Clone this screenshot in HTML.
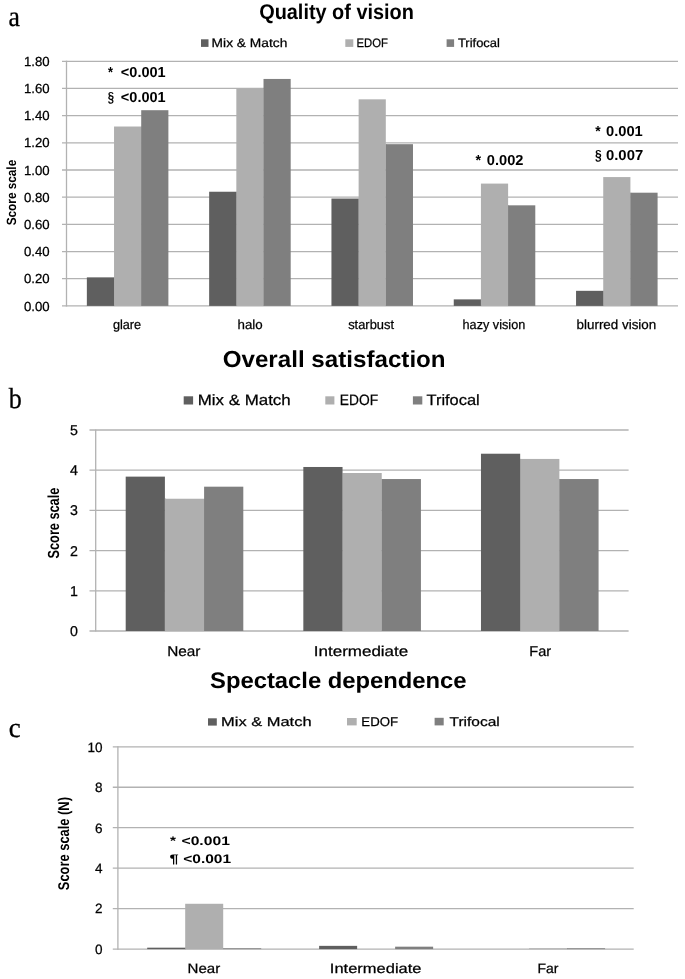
<!DOCTYPE html>
<html><head><meta charset="utf-8"><title>Figure</title>
<style>
html,body{margin:0;padding:0;background:#fff;}
body{width:685px;height:979px;overflow:hidden;font-family:"Liberation Sans", sans-serif;}
svg{display:block;filter:grayscale(1);}
</style></head>
<body>
<svg width="685" height="979" viewBox="0 0 685 979" text-rendering="geometricPrecision">
<rect x="0" y="0" width="685" height="979" fill="#fff"/>
<line x1="62.00" y1="305.90" x2="678.00" y2="305.90" stroke="#b2b2b2" stroke-width="1.30"/>
<line x1="62.00" y1="278.72" x2="678.00" y2="278.72" stroke="#b2b2b2" stroke-width="1.30"/>
<line x1="62.00" y1="251.54" x2="678.00" y2="251.54" stroke="#b2b2b2" stroke-width="1.30"/>
<line x1="62.00" y1="224.36" x2="678.00" y2="224.36" stroke="#b2b2b2" stroke-width="1.30"/>
<line x1="62.00" y1="197.18" x2="678.00" y2="197.18" stroke="#b2b2b2" stroke-width="1.30"/>
<line x1="62.00" y1="170.00" x2="678.00" y2="170.00" stroke="#b2b2b2" stroke-width="1.30"/>
<line x1="62.00" y1="142.82" x2="678.00" y2="142.82" stroke="#b2b2b2" stroke-width="1.30"/>
<line x1="62.00" y1="115.64" x2="678.00" y2="115.64" stroke="#b2b2b2" stroke-width="1.30"/>
<line x1="62.00" y1="88.46" x2="678.00" y2="88.46" stroke="#b2b2b2" stroke-width="1.30"/>
<line x1="62.00" y1="61.28" x2="678.00" y2="61.28" stroke="#b2b2b2" stroke-width="1.30"/>
<line x1="66.50" y1="60.68" x2="66.50" y2="306.50" stroke="#b2b2b2" stroke-width="1.30"/>
<rect x="86.85" y="277.36" width="27.18" height="28.54" fill="#5f5f5f"/>
<rect x="113.93" y="277.36" width="1.00" height="28.54" fill="#5f5f5f"/>
<rect x="114.03" y="126.51" width="27.18" height="179.39" fill="#afafaf"/>
<rect x="141.11" y="126.51" width="1.00" height="179.39" fill="#afafaf"/>
<rect x="141.21" y="110.20" width="27.18" height="195.70" fill="#7f7f7f"/>
<rect x="209.15" y="191.74" width="27.18" height="114.16" fill="#5f5f5f"/>
<rect x="236.23" y="191.74" width="1.00" height="114.16" fill="#5f5f5f"/>
<rect x="236.33" y="88.46" width="27.18" height="217.44" fill="#afafaf"/>
<rect x="263.41" y="88.46" width="1.00" height="217.44" fill="#afafaf"/>
<rect x="263.51" y="78.95" width="27.18" height="226.95" fill="#7f7f7f"/>
<rect x="331.45" y="198.54" width="27.18" height="107.36" fill="#5f5f5f"/>
<rect x="358.53" y="198.54" width="1.00" height="107.36" fill="#5f5f5f"/>
<rect x="358.63" y="99.33" width="27.18" height="206.57" fill="#afafaf"/>
<rect x="385.71" y="144.18" width="1.00" height="161.72" fill="#afafaf"/>
<rect x="385.81" y="144.18" width="27.18" height="161.72" fill="#7f7f7f"/>
<rect x="453.75" y="299.38" width="27.18" height="6.52" fill="#5f5f5f"/>
<rect x="480.83" y="299.38" width="1.00" height="6.52" fill="#5f5f5f"/>
<rect x="480.93" y="183.59" width="27.18" height="122.31" fill="#afafaf"/>
<rect x="508.01" y="205.33" width="1.00" height="100.57" fill="#afafaf"/>
<rect x="508.11" y="205.33" width="27.18" height="100.57" fill="#7f7f7f"/>
<rect x="576.05" y="290.82" width="27.18" height="15.08" fill="#5f5f5f"/>
<rect x="603.13" y="290.82" width="1.00" height="15.08" fill="#5f5f5f"/>
<rect x="603.23" y="177.07" width="27.18" height="128.83" fill="#afafaf"/>
<rect x="630.31" y="192.70" width="1.00" height="113.20" fill="#afafaf"/>
<rect x="630.41" y="192.70" width="27.18" height="113.20" fill="#7f7f7f"/>
<line x1="89.50" y1="631.00" x2="628.60" y2="631.00" stroke="#b2b2b2" stroke-width="1.30"/>
<line x1="89.50" y1="590.80" x2="628.60" y2="590.80" stroke="#b2b2b2" stroke-width="1.30"/>
<line x1="89.50" y1="550.60" x2="628.60" y2="550.60" stroke="#b2b2b2" stroke-width="1.30"/>
<line x1="89.50" y1="510.40" x2="628.60" y2="510.40" stroke="#b2b2b2" stroke-width="1.30"/>
<line x1="89.50" y1="470.20" x2="628.60" y2="470.20" stroke="#b2b2b2" stroke-width="1.30"/>
<line x1="89.50" y1="430.00" x2="628.60" y2="430.00" stroke="#b2b2b2" stroke-width="1.30"/>
<line x1="95.70" y1="429.40" x2="95.70" y2="631.60" stroke="#b2b2b2" stroke-width="1.30"/>
<rect x="125.70" y="476.63" width="39.20" height="154.37" fill="#5f5f5f"/>
<rect x="164.80" y="498.74" width="1.00" height="132.26" fill="#5f5f5f"/>
<rect x="164.90" y="498.74" width="39.20" height="132.26" fill="#afafaf"/>
<rect x="204.00" y="498.74" width="1.00" height="132.26" fill="#afafaf"/>
<rect x="204.10" y="486.68" width="39.20" height="144.32" fill="#7f7f7f"/>
<rect x="303.33" y="466.98" width="39.20" height="164.02" fill="#5f5f5f"/>
<rect x="342.43" y="473.01" width="1.00" height="157.99" fill="#5f5f5f"/>
<rect x="342.53" y="473.01" width="39.20" height="157.99" fill="#afafaf"/>
<rect x="381.63" y="479.04" width="1.00" height="151.96" fill="#afafaf"/>
<rect x="381.73" y="479.04" width="39.20" height="151.96" fill="#7f7f7f"/>
<rect x="480.97" y="453.72" width="39.20" height="177.28" fill="#5f5f5f"/>
<rect x="520.07" y="458.94" width="1.00" height="172.06" fill="#5f5f5f"/>
<rect x="520.17" y="458.94" width="39.20" height="172.06" fill="#afafaf"/>
<rect x="559.27" y="479.04" width="1.00" height="151.96" fill="#afafaf"/>
<rect x="559.37" y="479.04" width="39.20" height="151.96" fill="#7f7f7f"/>
<line x1="112.80" y1="949.10" x2="633.70" y2="949.10" stroke="#b2b2b2" stroke-width="1.30"/>
<line x1="112.80" y1="908.64" x2="633.70" y2="908.64" stroke="#b2b2b2" stroke-width="1.30"/>
<line x1="112.80" y1="868.18" x2="633.70" y2="868.18" stroke="#b2b2b2" stroke-width="1.30"/>
<line x1="112.80" y1="827.72" x2="633.70" y2="827.72" stroke="#b2b2b2" stroke-width="1.30"/>
<line x1="112.80" y1="787.26" x2="633.70" y2="787.26" stroke="#b2b2b2" stroke-width="1.30"/>
<line x1="112.80" y1="746.80" x2="633.70" y2="746.80" stroke="#b2b2b2" stroke-width="1.30"/>
<line x1="117.90" y1="746.20" x2="117.90" y2="949.70" stroke="#b2b2b2" stroke-width="1.30"/>
<rect x="147.20" y="947.68" width="38.00" height="1.42" fill="#5f5f5f"/>
<rect x="185.10" y="947.68" width="1.00" height="1.42" fill="#5f5f5f"/>
<rect x="185.20" y="903.78" width="38.00" height="45.32" fill="#afafaf"/>
<rect x="223.10" y="948.29" width="1.00" height="0.81" fill="#afafaf"/>
<rect x="223.20" y="948.29" width="38.00" height="0.81" fill="#7f7f7f"/>
<rect x="319.13" y="945.86" width="38.00" height="3.24" fill="#5f5f5f"/>
<rect x="395.13" y="946.67" width="38.00" height="2.43" fill="#7f7f7f"/>
<rect x="529.07" y="948.29" width="38.00" height="0.81" fill="#afafaf"/>
<rect x="566.97" y="948.29" width="1.00" height="0.81" fill="#afafaf"/>
<rect x="567.07" y="948.29" width="38.00" height="0.81" fill="#7f7f7f"/>
<rect x="201.00" y="39.30" width="7.50" height="7.60" fill="#5f5f5f"/>
<rect x="345.30" y="39.30" width="8.00" height="7.60" fill="#afafaf"/>
<rect x="446.60" y="39.30" width="7.50" height="7.60" fill="#7f7f7f"/>
<rect x="183.70" y="396.30" width="9.40" height="8.20" fill="#5f5f5f"/>
<rect x="325.30" y="396.30" width="9.10" height="8.20" fill="#afafaf"/>
<rect x="412.90" y="396.30" width="9.40" height="8.20" fill="#7f7f7f"/>
<rect x="208.00" y="718.30" width="8.80" height="7.30" fill="#5f5f5f"/>
<rect x="347.00" y="718.00" width="9.70" height="7.40" fill="#afafaf"/>
<rect x="434.60" y="717.80" width="9.10" height="7.60" fill="#7f7f7f"/>
<g fill="#000">
<text x="8.54" y="25.50" font-family='"Liberation Serif", serif' font-weight="400" font-size="29.00" textLength="11.39" lengthAdjust="spacingAndGlyphs" stroke="#000" stroke-width="0.30">a</text>
<text x="8.71" y="407.90" font-family='"Liberation Serif", serif' font-weight="400" font-size="29.00" textLength="13.04" lengthAdjust="spacingAndGlyphs" stroke="#000" stroke-width="0.30">b</text>
<text x="8.73" y="737.00" font-family='"Liberation Serif", serif' font-weight="400" font-size="28.00" textLength="11.93" lengthAdjust="spacingAndGlyphs" stroke="#000" stroke-width="0.30">c</text>
<text x="259.17" y="18.60" font-family='"Liberation Sans", sans-serif' font-weight="700" font-size="21.30" textLength="154.76" lengthAdjust="spacingAndGlyphs">Quality of vision</text>
<text x="222.65" y="367.20" font-family='"Liberation Sans", sans-serif' font-weight="700" font-size="23.20" textLength="223.00" lengthAdjust="spacingAndGlyphs">Overall satisfaction</text>
<text x="210.13" y="687.90" font-family='"Liberation Sans", sans-serif' font-weight="700" font-size="22.50" textLength="256.31" lengthAdjust="spacingAndGlyphs">Spectacle dependence</text>
<text x="211.64" y="47.00" font-family='"Liberation Sans", sans-serif' font-weight="400" font-size="12.20" textLength="75.67" lengthAdjust="spacingAndGlyphs" stroke="#000" stroke-width="0.25">Mix &amp; Match</text>
<text x="356.48" y="47.00" font-family='"Liberation Sans", sans-serif' font-weight="400" font-size="12.20" textLength="31.35" lengthAdjust="spacingAndGlyphs" stroke="#000" stroke-width="0.25">EDOF</text>
<text x="457.91" y="47.00" font-family='"Liberation Sans", sans-serif' font-weight="400" font-size="12.20" textLength="42.04" lengthAdjust="spacingAndGlyphs" stroke="#000" stroke-width="0.25">Trifocal</text>
<text x="197.81" y="404.90" font-family='"Liberation Sans", sans-serif' font-weight="400" font-size="15.00" textLength="92.92" lengthAdjust="spacingAndGlyphs" stroke="#000" stroke-width="0.25">Mix &amp; Match</text>
<text x="339.77" y="404.90" font-family='"Liberation Sans", sans-serif' font-weight="400" font-size="15.00" textLength="38.30" lengthAdjust="spacingAndGlyphs" stroke="#000" stroke-width="0.25">EDOF</text>
<text x="426.52" y="404.90" font-family='"Liberation Sans", sans-serif' font-weight="400" font-size="15.00" textLength="53.14" lengthAdjust="spacingAndGlyphs" stroke="#000" stroke-width="0.25">Trifocal</text>
<text x="221.11" y="725.80" font-family='"Liberation Sans", sans-serif' font-weight="400" font-size="12.80" textLength="90.45" lengthAdjust="spacingAndGlyphs" stroke="#000" stroke-width="0.25">Mix &amp; Match</text>
<text x="361.37" y="725.80" font-family='"Liberation Sans", sans-serif' font-weight="400" font-size="12.80" textLength="36.71" lengthAdjust="spacingAndGlyphs" stroke="#000" stroke-width="0.25">EDOF</text>
<text x="449.56" y="725.80" font-family='"Liberation Sans", sans-serif' font-weight="400" font-size="12.80" textLength="50.21" lengthAdjust="spacingAndGlyphs" stroke="#000" stroke-width="0.25">Trifocal</text>
<text x="112.88" y="328.50" font-family='"Liberation Sans", sans-serif' font-weight="400" font-size="13.20" textLength="28.26" lengthAdjust="spacingAndGlyphs" stroke="#000" stroke-width="0.25">glare</text>
<text x="237.54" y="328.50" font-family='"Liberation Sans", sans-serif' font-weight="400" font-size="13.20" textLength="25.15" lengthAdjust="spacingAndGlyphs" stroke="#000" stroke-width="0.25">halo</text>
<text x="348.16" y="328.50" font-family='"Liberation Sans", sans-serif' font-weight="400" font-size="13.20" textLength="45.87" lengthAdjust="spacingAndGlyphs" stroke="#000" stroke-width="0.25">starbust</text>
<text x="462.56" y="328.50" font-family='"Liberation Sans", sans-serif' font-weight="400" font-size="13.20" textLength="62.73" lengthAdjust="spacingAndGlyphs" stroke="#000" stroke-width="0.25">hazy vision</text>
<text x="576.57" y="328.50" font-family='"Liberation Sans", sans-serif' font-weight="400" font-size="13.20" textLength="79.67" lengthAdjust="spacingAndGlyphs" stroke="#000" stroke-width="0.25">blurred vision</text>
<text x="167.20" y="656.10" font-family='"Liberation Sans", sans-serif' font-weight="400" font-size="14.20" textLength="33.25" lengthAdjust="spacingAndGlyphs" stroke="#000" stroke-width="0.25">Near</text>
<text x="313.85" y="656.10" font-family='"Liberation Sans", sans-serif' font-weight="400" font-size="14.20" textLength="94.37" lengthAdjust="spacingAndGlyphs" stroke="#000" stroke-width="0.25">Intermediate</text>
<text x="529.25" y="656.10" font-family='"Liberation Sans", sans-serif' font-weight="400" font-size="14.20" textLength="21.85" lengthAdjust="spacingAndGlyphs" stroke="#000" stroke-width="0.25">Far</text>
<text x="187.50" y="973.40" font-family='"Liberation Sans", sans-serif' font-weight="400" font-size="13.60" textLength="32.67" lengthAdjust="spacingAndGlyphs" stroke="#000" stroke-width="0.25">Near</text>
<text x="329.88" y="973.40" font-family='"Liberation Sans", sans-serif' font-weight="400" font-size="13.60" textLength="91.58" lengthAdjust="spacingAndGlyphs" stroke="#000" stroke-width="0.25">Intermediate</text>
<text x="537.55" y="973.40" font-family='"Liberation Sans", sans-serif' font-weight="400" font-size="13.60" textLength="20.92" lengthAdjust="spacingAndGlyphs" stroke="#000" stroke-width="0.25">Far</text>
<text x="108.11" y="77.40" font-family='"Liberation Sans", sans-serif' font-weight="700" font-size="14.50" textLength="4.98" lengthAdjust="spacingAndGlyphs">*</text>
<text x="120.86" y="77.40" font-family='"Liberation Sans", sans-serif' font-weight="700" font-size="14.50" textLength="44.84" lengthAdjust="spacingAndGlyphs">&lt;0.001</text>
<text x="107.71" y="101.60" font-family='"Liberation Sans", sans-serif' font-weight="700" font-size="14.50" textLength="6.33" lengthAdjust="spacingAndGlyphs">§</text>
<text x="120.86" y="101.60" font-family='"Liberation Sans", sans-serif' font-weight="700" font-size="14.50" textLength="44.84" lengthAdjust="spacingAndGlyphs">&lt;0.001</text>
<text x="475.43" y="164.60" font-family='"Liberation Sans", sans-serif' font-weight="700" font-size="14.50" textLength="5.59" lengthAdjust="spacingAndGlyphs">*</text>
<text x="486.84" y="164.60" font-family='"Liberation Sans", sans-serif' font-weight="700" font-size="14.50" textLength="36.64" lengthAdjust="spacingAndGlyphs">0.002</text>
<text x="595.14" y="135.50" font-family='"Liberation Sans", sans-serif' font-weight="700" font-size="14.50" textLength="5.43" lengthAdjust="spacingAndGlyphs">*</text>
<text x="605.96" y="135.50" font-family='"Liberation Sans", sans-serif' font-weight="700" font-size="14.50" textLength="36.87" lengthAdjust="spacingAndGlyphs">0.001</text>
<text x="594.89" y="160.40" font-family='"Liberation Sans", sans-serif' font-weight="700" font-size="14.50" textLength="6.70" lengthAdjust="spacingAndGlyphs">§</text>
<text x="605.95" y="160.40" font-family='"Liberation Sans", sans-serif' font-weight="700" font-size="14.50" textLength="37.27" lengthAdjust="spacingAndGlyphs">0.007</text>
<text x="169.98" y="844.60" font-family='"Liberation Sans", sans-serif' font-weight="700" font-size="12.50" textLength="5.96" lengthAdjust="spacingAndGlyphs">*</text>
<text x="181.51" y="844.60" font-family='"Liberation Sans", sans-serif' font-weight="700" font-size="12.50" textLength="48.38" lengthAdjust="spacingAndGlyphs">&lt;0.001</text>
<text x="169.50" y="863.20" font-family='"Liberation Sans", sans-serif' font-weight="700" font-size="12.50" textLength="9.18" lengthAdjust="spacingAndGlyphs">¶</text>
<text x="183.22" y="863.20" font-family='"Liberation Sans", sans-serif' font-weight="700" font-size="12.50" textLength="47.93" lengthAdjust="spacingAndGlyphs">&lt;0.001</text>
<text transform="translate(15.80 225.28) rotate(-90)" x="0" y="0" font-family='"Liberation Sans", sans-serif' font-weight="700" font-size="13.40" textLength="65.46" lengthAdjust="spacingAndGlyphs">Score scale</text>
<text transform="translate(59.40 558.44) rotate(-90)" x="0" y="0" font-family='"Liberation Sans", sans-serif' font-weight="700" font-size="16.00" textLength="70.73" lengthAdjust="spacingAndGlyphs">Score scale</text>
<text transform="translate(68.80 890.17) rotate(-90)" x="0" y="0" font-family='"Liberation Sans", sans-serif' font-weight="700" font-size="15.50" textLength="93.09" lengthAdjust="spacingAndGlyphs">Score scale (N)</text>
<text x="49.60" y="310.50" font-family='"Liberation Sans", sans-serif' font-size="13.20" text-anchor="end" stroke="#000" stroke-width="0.25">0.00</text>
<text x="49.60" y="283.32" font-family='"Liberation Sans", sans-serif' font-size="13.20" text-anchor="end" stroke="#000" stroke-width="0.25">0.20</text>
<text x="49.60" y="256.14" font-family='"Liberation Sans", sans-serif' font-size="13.20" text-anchor="end" stroke="#000" stroke-width="0.25">0.40</text>
<text x="49.60" y="228.96" font-family='"Liberation Sans", sans-serif' font-size="13.20" text-anchor="end" stroke="#000" stroke-width="0.25">0.60</text>
<text x="49.60" y="201.78" font-family='"Liberation Sans", sans-serif' font-size="13.20" text-anchor="end" stroke="#000" stroke-width="0.25">0.80</text>
<text x="49.60" y="174.60" font-family='"Liberation Sans", sans-serif' font-size="13.20" text-anchor="end" stroke="#000" stroke-width="0.25">1.00</text>
<text x="49.60" y="147.42" font-family='"Liberation Sans", sans-serif' font-size="13.20" text-anchor="end" stroke="#000" stroke-width="0.25">1.20</text>
<text x="49.60" y="120.24" font-family='"Liberation Sans", sans-serif' font-size="13.20" text-anchor="end" stroke="#000" stroke-width="0.25">1.40</text>
<text x="49.60" y="93.06" font-family='"Liberation Sans", sans-serif' font-size="13.20" text-anchor="end" stroke="#000" stroke-width="0.25">1.60</text>
<text x="49.60" y="65.88" font-family='"Liberation Sans", sans-serif' font-size="13.20" text-anchor="end" stroke="#000" stroke-width="0.25">1.80</text>
<text x="78.00" y="636.00" font-family='"Liberation Sans", sans-serif' font-size="14.20" text-anchor="end" stroke="#000" stroke-width="0.25">0</text>
<text x="78.00" y="595.80" font-family='"Liberation Sans", sans-serif' font-size="14.20" text-anchor="end" stroke="#000" stroke-width="0.25">1</text>
<text x="78.00" y="555.60" font-family='"Liberation Sans", sans-serif' font-size="14.20" text-anchor="end" stroke="#000" stroke-width="0.25">2</text>
<text x="78.00" y="515.40" font-family='"Liberation Sans", sans-serif' font-size="14.20" text-anchor="end" stroke="#000" stroke-width="0.25">3</text>
<text x="78.00" y="475.20" font-family='"Liberation Sans", sans-serif' font-size="14.20" text-anchor="end" stroke="#000" stroke-width="0.25">4</text>
<text x="78.00" y="435.00" font-family='"Liberation Sans", sans-serif' font-size="14.20" text-anchor="end" stroke="#000" stroke-width="0.25">5</text>
<text x="102.60" y="953.90" font-family='"Liberation Sans", sans-serif' font-size="13.50" text-anchor="end" stroke="#000" stroke-width="0.25">0</text>
<text x="102.60" y="913.44" font-family='"Liberation Sans", sans-serif' font-size="13.50" text-anchor="end" stroke="#000" stroke-width="0.25">2</text>
<text x="102.60" y="872.98" font-family='"Liberation Sans", sans-serif' font-size="13.50" text-anchor="end" stroke="#000" stroke-width="0.25">4</text>
<text x="102.60" y="832.52" font-family='"Liberation Sans", sans-serif' font-size="13.50" text-anchor="end" stroke="#000" stroke-width="0.25">6</text>
<text x="102.60" y="792.06" font-family='"Liberation Sans", sans-serif' font-size="13.50" text-anchor="end" stroke="#000" stroke-width="0.25">8</text>
<text x="102.60" y="751.60" font-family='"Liberation Sans", sans-serif' font-size="13.50" text-anchor="end" stroke="#000" stroke-width="0.25">10</text>
</g>
</svg>
</body></html>
